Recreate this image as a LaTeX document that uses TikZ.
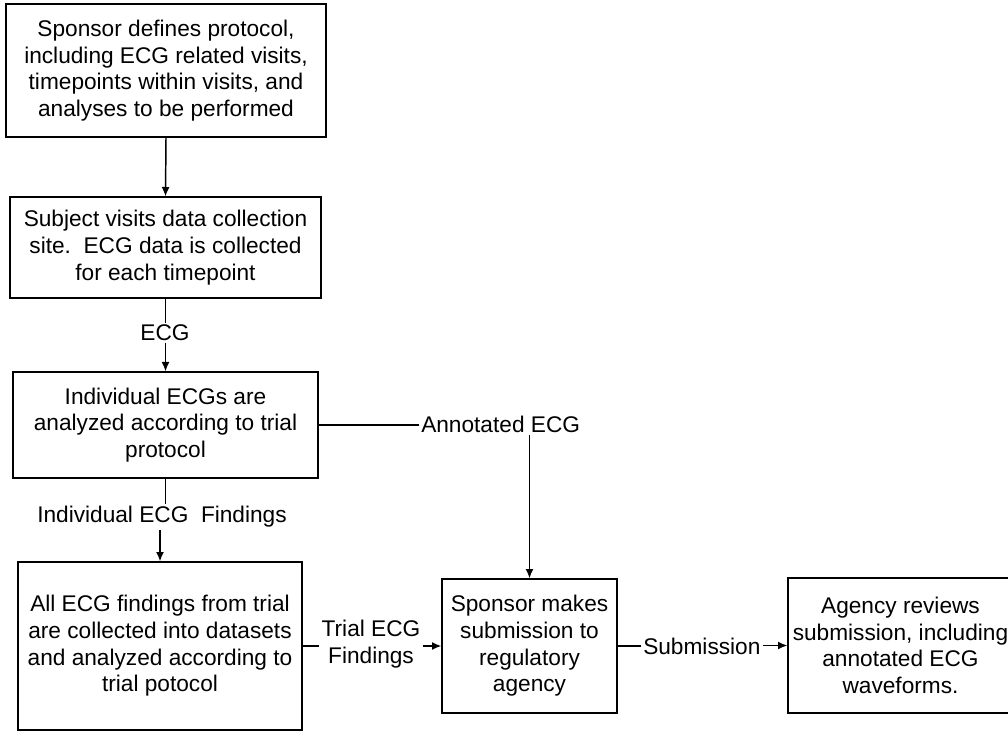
\documentclass[tikz,border=0pt]{standalone}
\usepackage{fontspec}
\setmainfont{Liberation Sans}
\usetikzlibrary{arrows.meta}
\begin{document}
\begin{tikzpicture}[x=0.75pt,y=-0.75pt,
  every node/.style={font=\fontsize{17pt}{20pt}\selectfont, align=center},
  box/.style={draw=black, line width=1pt, inner sep=0pt},
  lbl/.style={inner sep=1.5pt},
  conn/.style={line width=1.1pt, black},
  arr/.style={conn, -{Latex[length=7pt,width=6pt]}}]
\useasboundingbox (0,0) rectangle (1008,731);

% process boxes
\node[box, minimum width=320*0.75pt, minimum height=133*0.75pt] (b1) at (166,70.5)
  {Sponsor defines protocol,\\including ECG related visits,\\timepoints within visits, and\\analyses to be performed};
\node[box, minimum width=311*0.75pt, minimum height=101*0.75pt] (b2) at (165.5,247.5)
  {Subject visits data collection\\site.\ \ ECG data is collected\\for each timepoint};
\node[box, minimum width=305*0.75pt, minimum height=106*0.75pt] (b3) at (165.5,425)
  {Individual ECGs are\\analyzed according to trial\\protocol};
\node[box, minimum width=284*0.75pt, minimum height=168*0.75pt] (b4) at (160,646)
  {All ECG findings from trial\\are collected into datasets\\and analyzed according to\\trial potocol};
\node[box, minimum width=175*0.75pt, minimum height=134*0.75pt] (b5) at (529.5,646)
  {Sponsor makes\\submission to\\regulatory\\agency};
\node[box, minimum width=225*0.75pt, minimum height=135*0.75pt] (b6) at (900.5,645.5)
  {Agency reviews\\submission, including\\annotated ECG\\waveforms.};

% connector labels
\node[lbl] (lecg) at (165,333) {ECG};
\node[lbl] (lind) at (162,517) {Individual ECG\ \ Findings};
\node[lbl, anchor=west] (lann) at (419,424) {Annotated ECG};
\node[lbl] (ltrial) at (371,644) {Trial ECG\\Findings};
\node[lbl, anchor=west] (lsub) at (641,646) {Submission};

% connectors
\draw[arr] (b1.south) -- (b2.north);
\draw[conn] (b2.south) -- (b2.south |- lecg.north);
\draw[arr] (b3.north |- lecg.south) -- (b3.north);
\draw[conn] (b3.south) -- (b3.south |- lind.north);
\draw[arr] (b4.north |- lind.south) -- (b4.north);
\draw[conn] (b3.east) -- (b3.east -| lann.west);
\draw[arr] (b5.north |- lann.south) -- (b5.north);
\draw[conn] (b4.east) -- (b4.east -| ltrial.west);
\draw[arr] (b5.west -| ltrial.east) -- (b5.west);
\draw[conn] (b5.east) -- (b5.east -| lsub.west);
\draw[arr] (b6.west -| lsub.east) -- (b6.west);
\end{tikzpicture}
\end{document}
